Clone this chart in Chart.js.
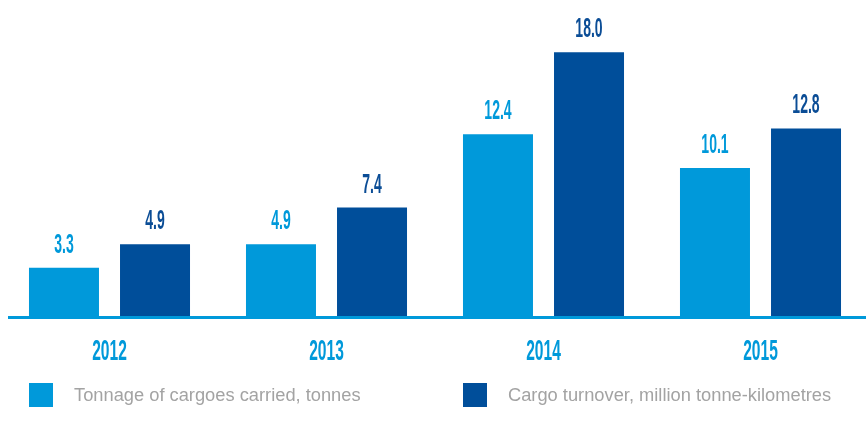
<!DOCTYPE html>
<html>
<head>
<meta charset="utf-8">
<script src="https://cdn.jsdelivr.net/npm/chart.js@4"></script>
<style>
  html, body { margin: 0; padding: 0; background: #fff; overflow: hidden; }
  #wrap { position: relative; width: 870px; height: 424px; }
  .legend { position: absolute; top: 383px; height: 24px; font-family: "Liberation Sans", Arial, sans-serif; font-size: 18.3px; color: #a3a3a3; }
  .legend span.box { position: absolute; left: 0; top: 0; width: 24px; height: 24px; }
  .legend span.txt { position: absolute; left: 45px; top: 1px; white-space: nowrap; line-height: 22px; }
</style>
</head>
<body>
<div id="wrap">
  <canvas id="graficoCarga"></canvas>
  <div class="legend" style="left:29px"><span class="box" style="background:#0099da"></span><span class="txt">Tonnage of cargoes carried, tonnes</span></div>
  <div class="legend" style="left:463px"><span class="box" style="background:#004e9a"></span><span class="txt">Cargo turnover, million tonne-kilometres</span></div>
</div>
<script>
const anios = ["2012", "2013", "2014", "2015"]
const toneladas = [3.3, 4.9, 12.4, 10.1]
const rotacion = [4.9, 7.4, 18.0, 12.8]

const colorClaro = "#0099da"
const colorOscuro = "#004e9a"

// etiquetas de valores y de años en letra estrecha
const etiquetasPlugin = {
  id: "etiquetas",
  afterDatasetsDraw(chart) {
    const ctx = chart.ctx
    const colores = [colorClaro, "#0b4d96"]
    chart.data.datasets.forEach((ds, di) => {
      chart.getDatasetMeta(di).data.forEach((barra, i) => {
        ctx.save()
        ctx.translate(barra.x, barra.y - 15)
        ctx.scale(0.52, 1.02)
        ctx.font = 'bold 27px "Liberation Sans"'
        ctx.textAlign = "center"
        ctx.fillStyle = colores[di]
        ctx.fillText(ds.data[i].toFixed(1), 0, 0)
        ctx.restore()
      })
    })

    // linea base
    const y0 = chart.scales.y.getPixelForValue(0)
    ctx.save()
    ctx.strokeStyle = colorClaro
    ctx.lineWidth = 3
    ctx.beginPath()
    ctx.moveTo(8, y0 + 1.5)
    ctx.lineTo(chart.width, y0 + 1.5)
    ctx.stroke()
    ctx.restore()

    const ejeX = chart.scales.x
    chart.data.labels.forEach((anio, i) => {
      ctx.save()
      ctx.translate(ejeX.getPixelForValue(i), y0 + 44)
      ctx.scale(0.52, 1)
      ctx.font = 'bold 30px "Liberation Sans"'
      ctx.textAlign = "center"
      ctx.fillStyle = colorClaro
      ctx.fillText(anio, 0, 0)
      ctx.restore()
    })
  },
}

new Chart(document.getElementById("graficoCarga"), {
  type: "bar",
  data: {
    labels: anios,
    datasets: [
      {
        label: "Tonnage of cargoes carried, tonnes",
        data: toneladas,
        backgroundColor: colorClaro,
        categoryPercentage: 0.839,
        barPercentage: 0.769,
      },
      {
        label: "Cargo turnover, million tonne-kilometres",
        data: rotacion,
        backgroundColor: colorOscuro,
        categoryPercentage: 0.839,
        barPercentage: 0.769,
      },
    ],
  },
  options: {
    responsive: true,
    maintainAspectRatio: false,
    animation: false,
    layout: { padding: { top: 23, bottom: 108, left: 1, right: 1 } },
    plugins: { legend: { display: false }, tooltip: { enabled: false } },
    scales: {
      x: { display: false },
      y: { display: false, min: 0, max: 20 },
    },
  },
  plugins: [etiquetasPlugin],
})
</script>
</body>
</html>
